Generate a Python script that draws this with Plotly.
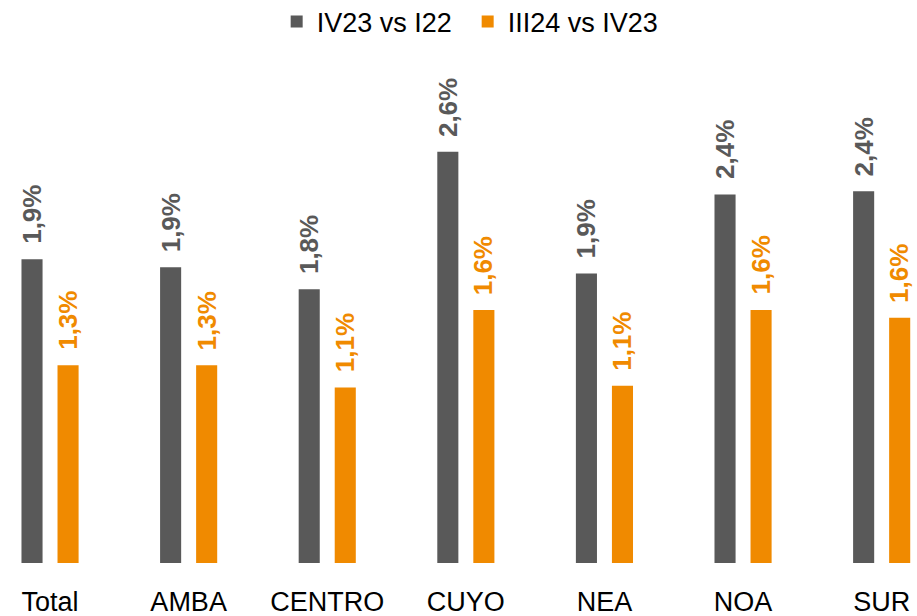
import plotly.graph_objects as go

categories = ["Total", "AMBA", "CENTRO", "CUYO", "NEA", "NOA", "SUR"]
series_names = ["IV23 vs I22", "III24 vs IV23"]
iv23_vs_i22 = [1.92, 1.87, 1.73, 2.60, 1.83, 2.33, 2.35]
iii24_vs_iv23 = [1.25, 1.25, 1.11, 1.60, 1.12, 1.60, 1.55]
iv23_labels = ["1,9%", "1,9%", "1,8%", "2,6%", "1,9%", "2,4%", "2,4%"]
iii24_labels = ["1,3%", "1,3%", "1,1%", "1,6%", "1,1%", "1,6%", "1,6%"]

GRAY = "#595959"
ORANGE = "#F08A00"
BARGAP = 0.48
GROUPGAP = 0.415
offset = (1 - BARGAP) / 4

fig = go.Figure()
fig.add_trace(go.Bar(x=categories, y=iv23_vs_i22, name=series_names[0],
                     marker=dict(color=GRAY, line=dict(width=0))))
fig.add_trace(go.Bar(x=categories, y=iii24_vs_iv23, name=series_names[1],
                     marker=dict(color=ORANGE, line=dict(width=0))))

label_font = dict(family="Liberation Sans", size=26, weight="bold")
annotations = []
for i, (v, t) in enumerate(zip(iv23_vs_i22, iv23_labels)):
    annotations.append(dict(x=i - offset, y=v, xref="x", yref="y", text=t,
                            textangle=-90, showarrow=False, yanchor="bottom",
                            xanchor="center", yshift=13,
                            font=dict(label_font, color=GRAY)))
for i, (v, t) in enumerate(zip(iii24_vs_iv23, iii24_labels)):
    annotations.append(dict(x=i + offset, y=v, xref="x", yref="y", text=t,
                            textangle=-90, showarrow=False, yanchor="bottom",
                            xanchor="center", yshift=13,
                            font=dict(label_font, color=ORANGE)))

fig.update_layout(
    width=917, height=616,
    margin=dict(l=0, r=0, t=60, b=53, autoexpand=False),
    paper_bgcolor="white", plot_bgcolor="white",
    barmode="group", bargap=BARGAP, bargroupgap=GROUPGAP,
    showlegend=True,
    legend=dict(orientation="h", x=0.51, xanchor="center", y=1.0755, yanchor="middle",
                font=dict(family="Liberation Sans", size=27, color="#000000"),
                itemwidth=30, entrywidth=146, traceorder="normal"),
    xaxis=dict(range=[-0.361, 6.255], showgrid=False, showline=False, zeroline=False,
               ticks="", ticklabelstandoff=20,
               tickfont=dict(family="Liberation Sans", size=27, color="#000000")),
    yaxis=dict(range=[0, 3.18], visible=False),
    annotations=annotations,
)

fig.write_html("out.html", config={"displayModeBar": False},
               post_script="document.body.style.margin='0';document.body.style.padding='0';")
